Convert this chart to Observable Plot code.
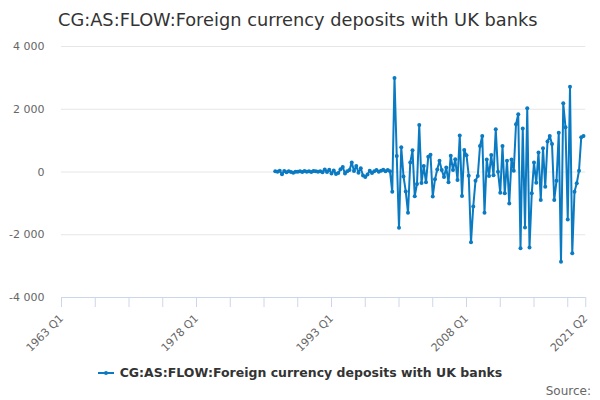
<!DOCTYPE html>
<html>
<head>
<meta charset="utf-8">
<script src="https://cdn.jsdelivr.net/npm/d3@7"></script>
<script src="https://cdn.jsdelivr.net/npm/@observablehq/plot@0.6"></script>
<style>
  html, body { margin: 0; padding: 0; background: #fff; }
  #wrap { position: relative; width: 600px; height: 400px; overflow: hidden; font-family: "DejaVu Sans", sans-serif; }
  #title { position: absolute; left: 58px; top: 9px; font-size: 17.8px; line-height: 22px; color: #333; white-space: nowrap; }
  #chart { position: absolute; left: 0; top: 34px; }
  #legend { position: absolute; left: 0; top: 364px; width: 600px; text-align: center; font-weight: bold; font-size: 12.5px; line-height: 18px; color: #333; white-space: nowrap; }
  #legend svg { vertical-align: middle; margin-right: 6px; position: relative; top: -1px; }
  #source { position: absolute; right: 9px; top: 383px; font-size: 12px; line-height: 16px; color: #666; }
</style>
</head>
<body>
<div id="wrap">
  <div id="title"></div>
  <div id="chart"></div>
  <div id="legend"></div>
  <div id="source">Source:</div>
</div>
<script>
const seriesName = "CG:AS:FLOW:Foreign currency deposits with UK banks";
const axisStart = "1963 Q1";
const axisEnd = "2021 Q2";
const firstQuarter = "1986 Q4";
const values = [
  20, 10, 40, -70, 30, -10, 20, 0, -20, 10,
  10, 20, 0, 30, 10, 20, 0, 30, 20, 10,
  20, -10, 80, 0, 70, -50, 50, -60, -30, 90,
  160, -50, 20, 60, 300, 30, 190, -20, 120, -110,
  -160, -80, 40, -30, 20, 60, 10, 40, 70, 20,
  60, 20, -630,
  3000, 510, -1780, 790, -140, -620, -1300, 300, 690, -770,
  -380, 1500, -350, 190, -330, 490, 550, -780, -230, 80,
  360, 60, -160, 140, -330, 520, 60, 410, -255, 1160,
  -765, 700, 535, -120, -2240,
  -1100, -280, -130, 830, 1150, -1300, 400, -130, 540, -100,
  1360, 10, -660, 830, -680, 360, -1000, 400, 40, 1520,
  1840, -2430, 1390, -1770, 2030, -2410, -680, 300, -340, 620,
  -890, 760, -470, 970, 1150, 890, -890, -280, 1250, -2860,
  2190, 1430, -1510, 2720, -2590, -630, -360, 40, 1110, 1150
];
const yTicks = [-4000, -2000, 0, 2000, 4000];
const xTickLabels = ["1963 Q1", "1978 Q1", "1993 Q1", "2008 Q1", "2021 Q2"];
const xTickStep = 15; // quarters between tick marks

const color = "#0a7ac2";
const qIndex = s => { const [y, q] = s.split(" Q"); return (+y - 1963) * 4 + (+q - 1); };
const qLabel = i => `${1963 + Math.floor(i / 4)} Q${(i % 4) + 1}`;
const x0 = qIndex(axisStart), x1 = qIndex(axisEnd);
const start = qIndex(firstQuarter);
const data = values.map((v, i) => ({q: start + i, v}));
const xTicks = d3.range(x0, x1, xTickStep).concat([x1]);
const labeled = new Set(xTickLabels.map(qIndex));
const yFmt = v => (v < 0 ? "-" : "") + d3.format(",")(Math.abs(v)).replace(/,/g, " ");

document.getElementById("title").textContent = seriesName;
document.getElementById("legend").innerHTML =
  `<svg width="16" height="12"><line x1="0" x2="16" y1="6" y2="6" stroke="${color}" stroke-width="2"/><circle cx="8" cy="6" r="2" fill="${color}"/></svg><span></span>`;
document.querySelector("#legend span").textContent = seriesName;

const chart = Plot.plot({
  width: 600,
  height: 326,
  marginTop: 12,
  marginBottom: 63,
  marginLeft: 61,
  marginRight: 14.75,
  style: {fontFamily: "DejaVu Sans, sans-serif", fontSize: "11px", color: "#666", background: "transparent", overflow: "visible"},
  x: {domain: [x0, x1], label: null},
  y: {domain: [-4000, 4000], label: null},
  marks: [
    Plot.gridY(yTicks, {stroke: "#e6e6e6", strokeOpacity: 1}),
    Plot.ruleY([-4000], {stroke: "#ccd6eb", strokeWidth: 1}),
    Plot.axisY(yTicks, {tickSize: 0, tickPadding: 17, tickFormat: yFmt, fill: "#666", label: null}),
    Plot.axisX(xTicks, {tickSize: 10, tickPadding: 9, tickRotate: -45, stroke: "#ccd6eb", strokeOpacity: 1, fill: "#666", label: null,
      tickFormat: q => labeled.has(q) ? qLabel(q) : ""}),
    Plot.line(data, {x: "q", y: "v", stroke: color, strokeWidth: 2}),
    Plot.dot(data, {x: "q", y: "v", fill: color, r: 2})
  ]
});
document.getElementById("chart").appendChild(chart);
</script>
</body>
</html>
